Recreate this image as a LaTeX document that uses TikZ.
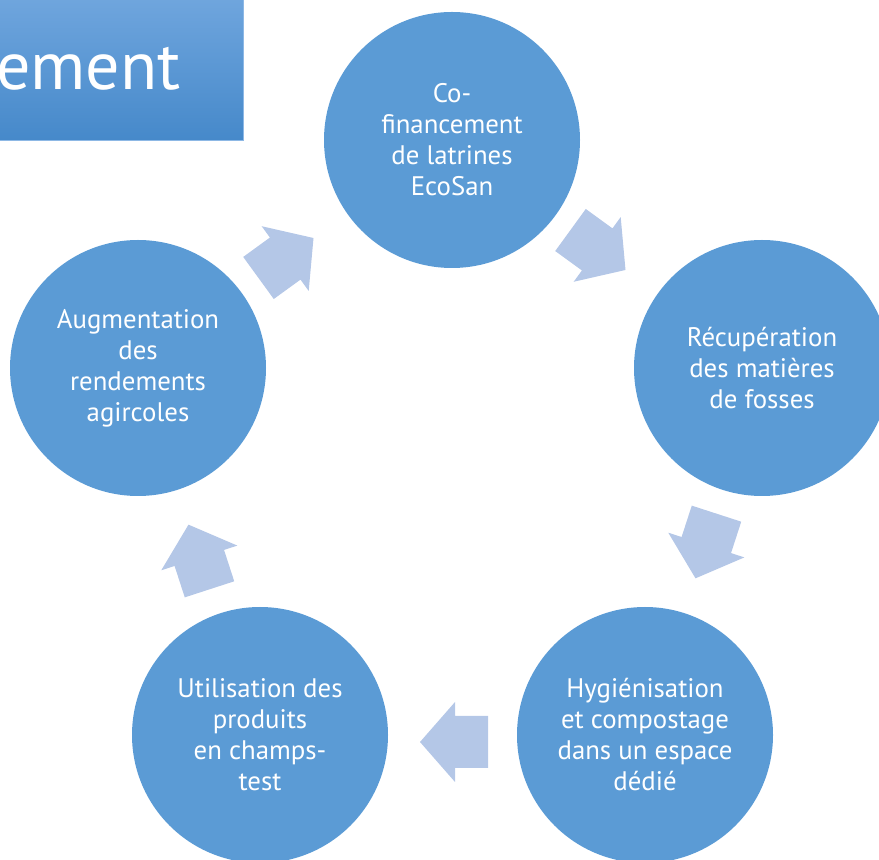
\documentclass[tikz,border=0pt]{standalone}
\usepackage{fontspec}
\setmainfont{PT Sans}
\definecolor{circblue}{HTML}{5B9BD5}
\definecolor{arrblue}{HTML}{B4C7E7}
\definecolor{titletop}{HTML}{70A6DE}
\definecolor{titlebot}{HTML}{4689CA}
\begin{document}
\begin{tikzpicture}[x=1pt,y=1pt,
  circ/.style={circle, fill=circblue, minimum size=256pt, inner sep=0pt, text=white, align=center,
    font=\fontsize{26.8}{31}\selectfont},
  blockarrow/.style={fill=arrblue}]
\useasboundingbox (0,0) rectangle (879,860);
\clip (0,0) rectangle (879,860);
% title box
\shade[top color=titletop, bottom color=titlebot, draw=titletop!80!white] (-5,720) rectangle (243,865);
\node[anchor=base west, text=white, font=\fontsize{68}{68}\selectfont, inner sep=0pt] (title) at (-4,770) {ement};
% circles
\node[circ] (c1) at (452,720) {Co-\\financement\\de latrines\\EcoSan};
\node[circ] (c2) at (762,492) {Récupération\\des matières\\de fosses};
\node[circ] (c3) at (645,125) {Hygiénisation\\et compostage\\dans un espace\\dédié};
\node[circ] (c4) at (260,125) {Utilisation des\\produits\\en champs-\\test};
\node[circ] (c5) at (138,492) {Augmentation\\des\\rendements\\agircoles};
% arrows
\foreach \cx/\cy/\ang in {598/610/-36, 706/314/-108, 454/118/180, 199/303/108, 286/602/36}{
  \fill[blockarrow, shift={(\cx,\cy)}, rotate=\ang]
    (-34,-26) -- (-1,-26) -- (-1,-40) -- (34,0) -- (-1,40) -- (-1,26) -- (-34,26) -- cycle;
}
\end{tikzpicture}
\end{document}
